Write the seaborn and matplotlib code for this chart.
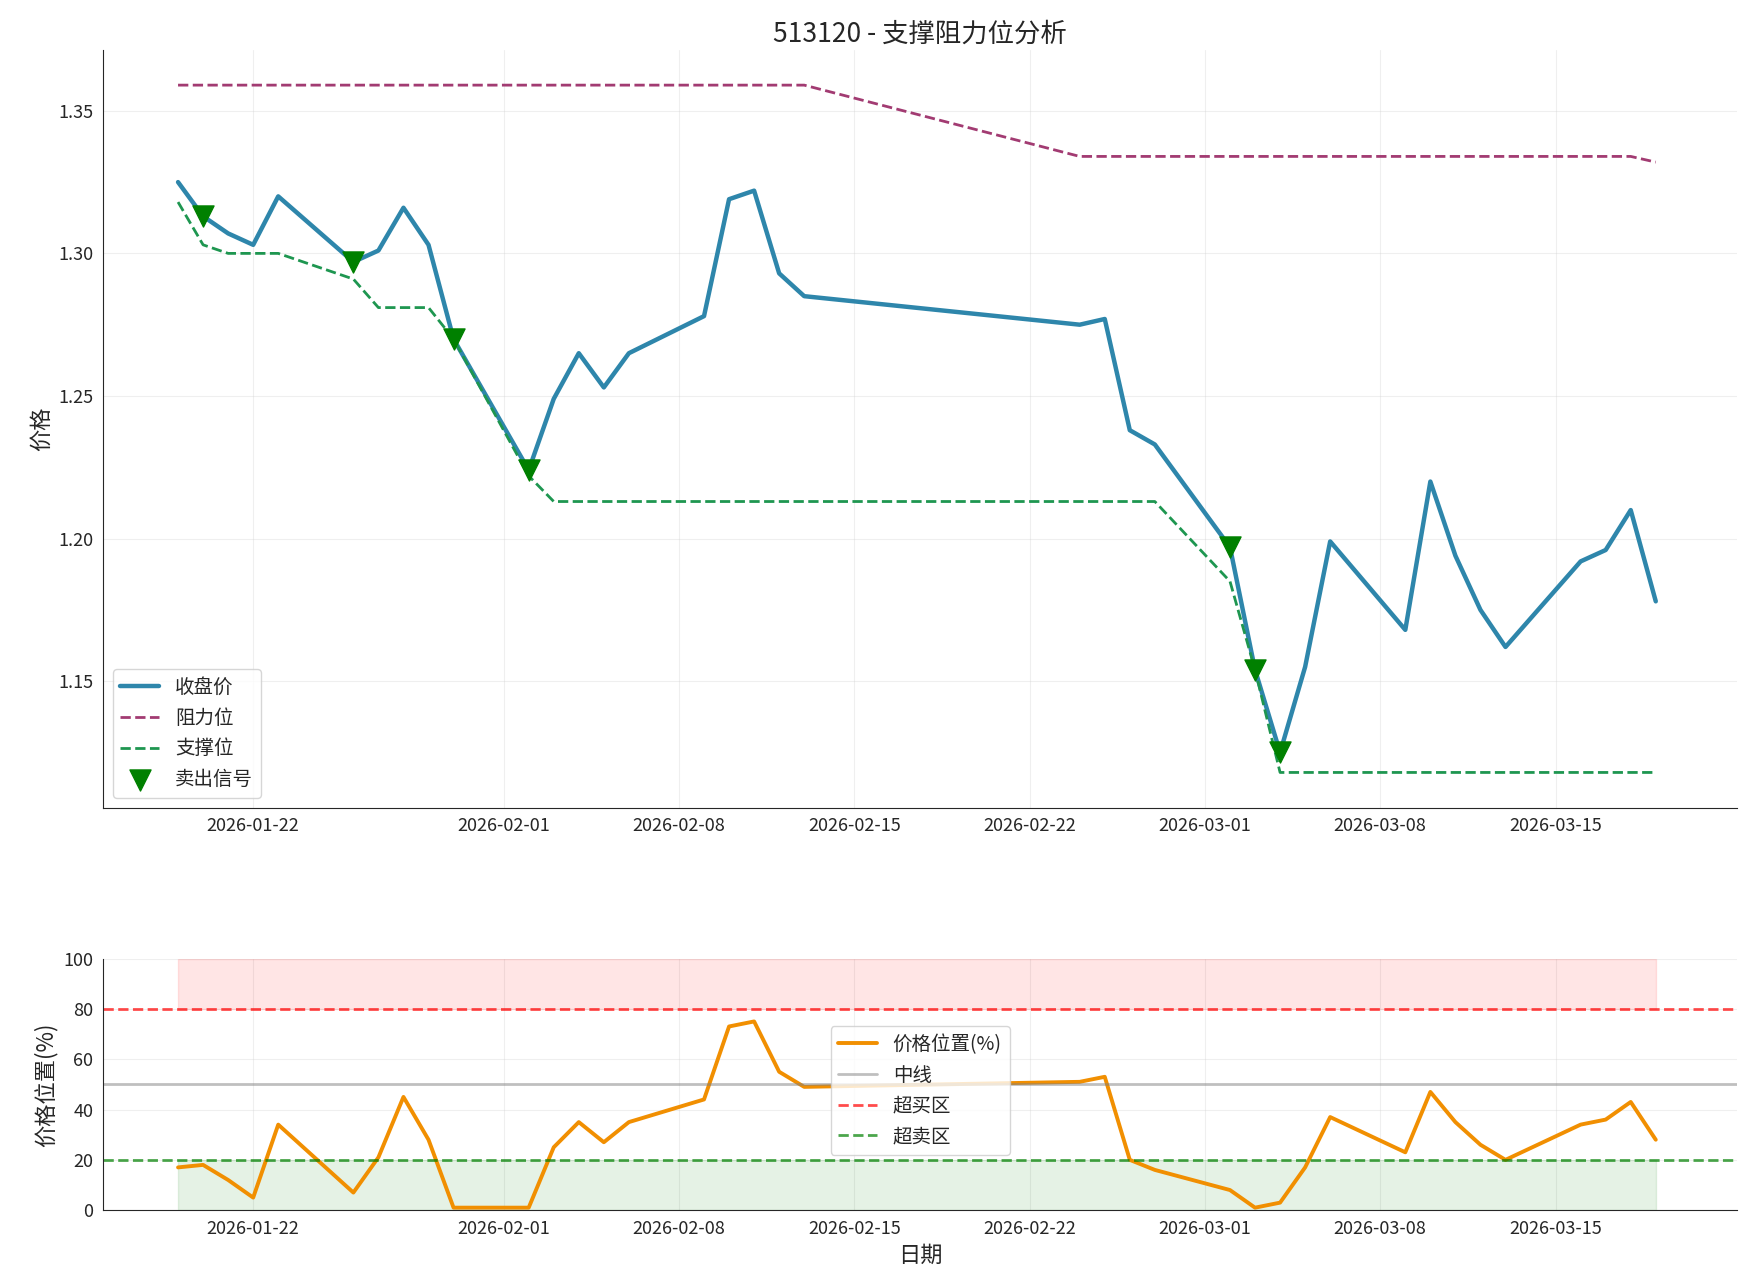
import pandas as pd
import matplotlib
matplotlib.use("Agg")
import matplotlib.pyplot as plt
import matplotlib.dates as mdates
import seaborn as sns

sns.set_style("white")
plt.rcParams['font.family'] = ['Noto Sans CJK SC', 'DejaVu Sans']
plt.rcParams['axes.unicode_minus'] = False

dates = pd.to_datetime([
    "2026-01-19", "2026-01-20", "2026-01-21", "2026-01-22", "2026-01-23",
    "2026-01-26", "2026-01-27", "2026-01-28", "2026-01-29", "2026-01-30",
    "2026-02-02", "2026-02-03", "2026-02-04", "2026-02-05", "2026-02-06",
    "2026-02-09", "2026-02-10", "2026-02-11", "2026-02-12", "2026-02-13",
    "2026-02-24", "2026-02-25", "2026-02-26", "2026-02-27",
    "2026-03-02", "2026-03-03", "2026-03-04", "2026-03-05", "2026-03-06",
    "2026-03-09", "2026-03-10", "2026-03-11", "2026-03-12", "2026-03-13",
    "2026-03-16", "2026-03-17", "2026-03-18", "2026-03-19"])
close = [1.325, 1.313, 1.307, 1.303, 1.320, 1.297, 1.301, 1.316, 1.303, 1.270,
         1.224, 1.249, 1.265, 1.253, 1.265, 1.278, 1.319, 1.322, 1.293, 1.285,
         1.275, 1.277, 1.238, 1.233, 1.197, 1.154, 1.125, 1.155, 1.199,
         1.168, 1.220, 1.194, 1.175, 1.162, 1.192, 1.196, 1.210, 1.178]
resistance = [1.359] * 20 + [1.334] * 17 + [1.332]
support = [1.318, 1.303, 1.300, 1.300, 1.300, 1.291, 1.281, 1.281, 1.281, 1.270,
           1.222, 1.213, 1.213, 1.213, 1.213, 1.213, 1.213, 1.213, 1.213, 1.213,
           1.213, 1.213, 1.213, 1.213, 1.185, 1.154, 1.118, 1.118, 1.118,
           1.118, 1.118, 1.118, 1.118, 1.118, 1.118, 1.118, 1.118, 1.118]
position = [17, 18, 12, 5, 34, 7, 21, 45, 28, 1,
            1, 25, 35, 27, 35, 44, 73, 75, 55, 49,
            51, 53, 20, 16, 8, 1, 3, 17, 37,
            23, 47, 35, 26, 20, 34, 36, 43, 28]
sell_idx = [1, 5, 9, 10, 24, 25, 26]
tick_dates = pd.to_datetime(["2026-01-22", "2026-02-01", "2026-02-08", "2026-02-15",
                             "2026-02-22", "2026-03-01", "2026-03-08", "2026-03-15"])

df = pd.DataFrame({"date": dates, "close": close, "res": resistance,
                   "sup": support, "pos": position})
sells = df.iloc[sell_idx]

W, H = 1560, 1148
fig = plt.figure(figsize=(17.45, 12.84), dpi=100)
ax1 = fig.add_axes([92/W, 1 - 722/H, 1461/W, 677/H])
ax2 = fig.add_axes([92/W, 1 - 1082/H, 1461/W, 225/H])

sns.lineplot(data=df, x="date", y="close", ax=ax1, color="#2E86AB", linewidth=3.2, label="收盘价")
sns.lineplot(data=df, x="date", y="res", ax=ax1, color="#A23B72", linewidth=2, linestyle="--", label="阻力位")
sns.lineplot(data=df, x="date", y="sup", ax=ax1, color="#1E9650", linewidth=2, linestyle="--", label="支撑位")
ax1.scatter(sells["date"], sells["close"], marker="v", s=230, color="green", zorder=5, label="卖出信号")
ax1.set_title("513120 - 支撑阻力位分析", fontsize=19)
ax1.set_ylabel("价格", fontsize=16)
ax1.set_xlabel("")
ax1.set_yticks([1.15, 1.20, 1.25, 1.30, 1.35])
ax1.set_ylim(1.1057, 1.3712)
ax1.legend(loc="lower left", fontsize=14)
ax1.grid(alpha=0.3)

ax2.fill_between(df["date"], 80, 100, color="red", alpha=0.1)
ax2.fill_between(df["date"], 0, 20, color="green", alpha=0.1)
sns.lineplot(data=df, x="date", y="pos", ax=ax2, color="#F18F01", linewidth=2.8, label="价格位置(%)")
ax2.axhline(50, color="gray", alpha=0.5, linewidth=2, label="中线")
ax2.axhline(80, color="red", linestyle="--", alpha=0.7, linewidth=2, label="超买区")
ax2.axhline(20, color="green", linestyle="--", alpha=0.7, linewidth=2, label="超卖区")
ax2.set_ylim(0, 100)
ax2.set_ylabel("价格位置(%)", fontsize=16)
ax2.set_xlabel("日期", fontsize=16)
ax2.legend(loc="upper center", bbox_to_anchor=(0.5, 0.77), fontsize=14)
ax2.grid(alpha=0.3)

for ax in (ax1, ax2):
    ax.set_xticks(tick_dates)
    ax.xaxis.set_major_formatter(mdates.DateFormatter("%Y-%m-%d"))
    ax.set_xlim(pd.Timestamp("2026-01-16T00"), pd.Timestamp("2026-03-22T06"))
    ax.tick_params(labelsize=13)
    sns.despine(ax=ax)

fig.savefig("out.png", dpi=100)
